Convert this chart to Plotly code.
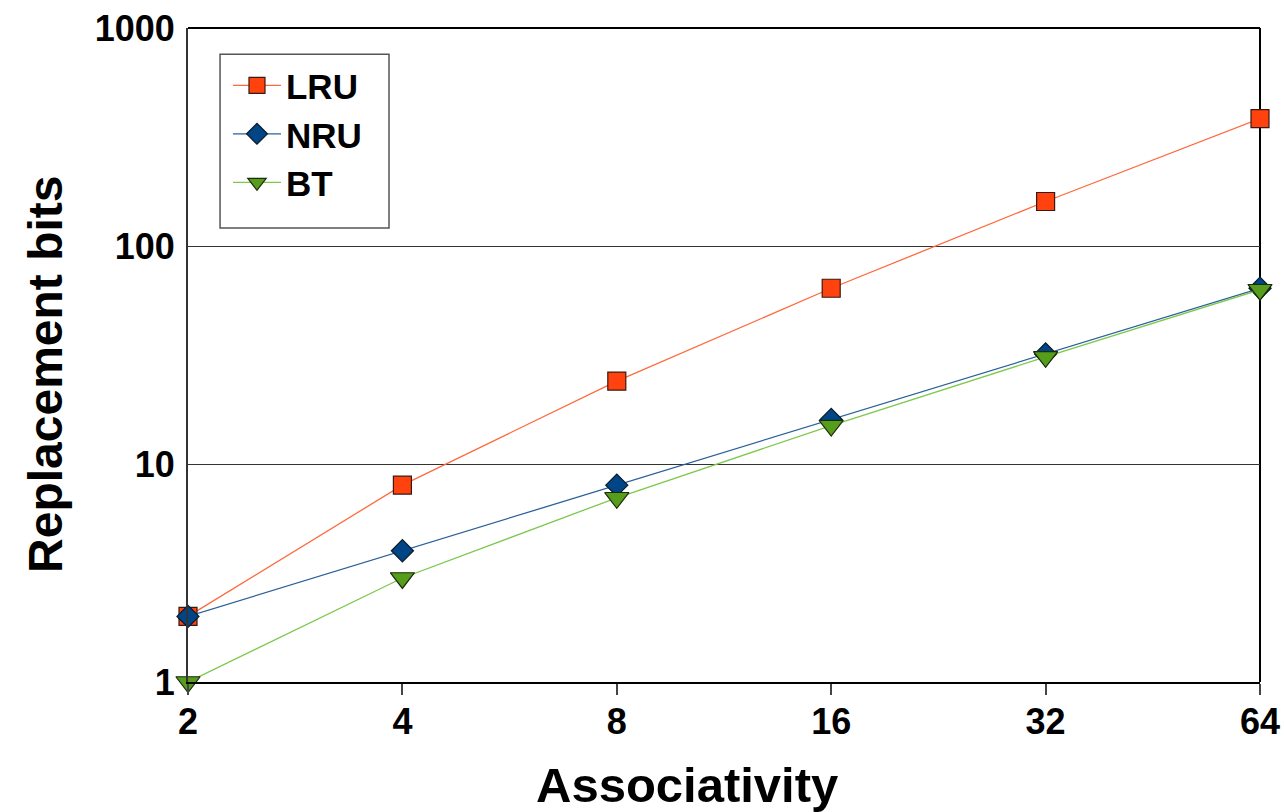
import plotly.graph_objects as go

categories = ["2", "4", "8", "16", "32", "64"]
lru = [2, 8, 24, 64, 160, 384]
nru = [2, 4, 8, 16, 32, 64]
bt = [1, 3, 7, 15, 31, 63]
y_ticks = [1, 10, 100, 1000]

xs = list(range(len(categories)))
font = "Liberation Sans, Arial, sans-serif"

W, H = 1284, 812
L, T, R, B = 188, 28, 24, 130

fig = go.Figure()
fig.add_trace(go.Scatter(x=xs, y=lru, name="<b>LRU</b>", mode="lines+markers",
                         line=dict(color="#ff6a3c", width=1.3),
                         marker=dict(symbol="square", size=18, color="#ff420e",
                                     line=dict(color="#3a1a10", width=1.2)),
                         cliponaxis=False))
fig.add_trace(go.Scatter(x=xs, y=nru, name="<b>NRU</b>", mode="lines+markers",
                         line=dict(color="#2a6099", width=1.3),
                         marker=dict(symbol="diamond", size=17, color="#004586",
                                     line=dict(color="#0a1a2a", width=1.2)),
                         cliponaxis=False))
fig.add_trace(go.Scatter(x=xs, y=bt, name="<b>BT</b>", mode="lines+markers",
                         line=dict(color="#7ec84e", width=1.3),
                         marker=dict(symbol="triangle-down", size=21, color="#579d1c",
                                     line=dict(color="#1a2a0a", width=1.2)),
                         cliponaxis=False))

fig.update_layout(
    width=W, height=H,
    margin=dict(l=L, r=R, t=T, b=B, autoexpand=False),
    plot_bgcolor="white", paper_bgcolor="white",
    font=dict(family=font, size=36, color="black"),
    showlegend=True,
    legend=dict(x=0.0373, y=0.957, xanchor="left", yanchor="top",
                borderwidth=0, bgcolor="rgba(0,0,0,0)",
                font=dict(family=font, size=35, color="black"),
                itemsizing="trace", itemwidth=48),
    xaxis=dict(
        tickmode="array", tickvals=xs, ticktext=["<b>%s</b>" % c for c in categories],
        range=[0, len(categories) - 1], automargin=False,
        showgrid=False, zeroline=False,
        showline=True, linecolor="black", linewidth=2, mirror=False,
        ticks="outside", ticklen=11, tickcolor="#444444", tickwidth=1.5,
        ticklabelstandoff=-4, ticklabeloverflow="allow",
        tickfont=dict(family=font, size=36, color="black"),
    ),
    yaxis=dict(
        type="log", range=[0, 3], automargin=False,
        tickmode="array", tickvals=y_ticks, ticktext=["<b>%d</b>" % v for v in y_ticks],
        showgrid=True, gridcolor="#333333", gridwidth=1,
        zeroline=False,
        showline=True, linecolor="#333333", linewidth=2,
        ticks="", ticklabelstandoff=4, ticklabeloverflow="allow",
        tickfont=dict(family=font, size=36, color="black"),
    ),
)

# axis titles (placed as in the reference, slightly off-centre)
fig.add_annotation(text="<b>Associativity</b>", xref="paper", yref="paper",
                   x=0.4655, y=-0.157, xanchor="center", yanchor="middle",
                   showarrow=False, font=dict(family=font, size=49, color="black"))
fig.add_annotation(text="<b>Replacement bits</b>", xref="paper", yref="paper",
                   x=-0.1325, y=0.471, xanchor="center", yanchor="middle", textangle=-90,
                   showarrow=False, font=dict(family=font, size=48, color="black"))

# legend frame
fig.add_shape(type="rect", xref="paper", yref="paper",
              x0=0.0299, x1=0.1875, y0=0.694, y1=0.960,
              line=dict(color="#555555", width=1.5), fillcolor="white", layer="below")

# top and right border of plot area
fig.add_shape(type="line", xref="paper", yref="paper", x0=0, x1=1, y0=1, y1=1,
              line=dict(color="black", width=2))
fig.add_shape(type="line", xref="paper", yref="paper", x0=1, x1=1, y0=0, y1=1,
              line=dict(color="black", width=2), layer="below")

fig.write_html("out.html", config={"displayModeBar": False},
               post_script="document.body.style.margin='0';document.body.style.overflow='hidden';")
